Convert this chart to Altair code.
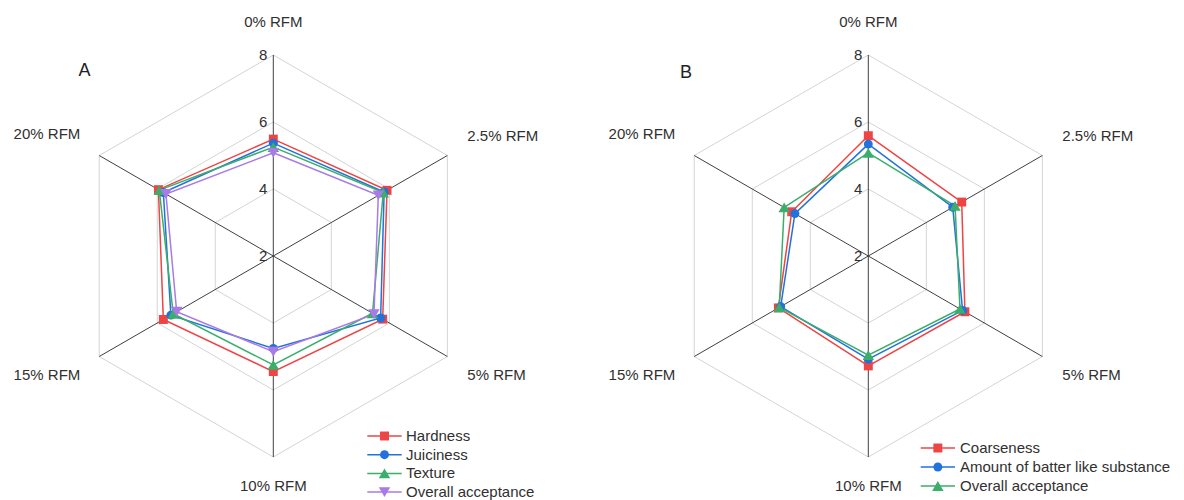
import math
import altair as alt
import pandas as pd

# ---------------- data ----------------
categories = ["0% RFM", "2.5% RFM", "5% RFM", "10% RFM", "15% RFM", "20% RFM"]
tick_values = [2, 4, 6, 8]
grid_values = [4, 6, 8]

a_names = ["Hardness", "Juiciness", "Texture", "Overall acceptance"]
a_hardness = [5.49, 5.92, 5.77, 5.45, 5.79, 5.96]
a_juiciness = [5.37, 5.82, 5.70, 4.76, 5.53, 5.79]
a_texture = [5.25, 5.79, 5.42, 5.25, 5.45, 5.93]
a_overall = [5.08, 5.62, 5.47, 4.86, 5.33, 5.70]

b_names = ["Coarseness", "Amount of batter like substance", "Overall acceptance"]
b_coarseness = [5.59, 5.22, 5.33, 5.28, 5.10, 4.64]
b_batter = [5.34, 4.91, 5.25, 5.08, 5.02, 4.53]
b_overall = [5.08, 4.99, 5.16, 4.96, 5.07, 4.90]

# ---------------- style / layout ----------------
RED, BLUE, GREEN, PURPLE = "#EE4444", "#2272DC", "#3AAE6A", "#A97BE6"
FONT = "Liberation Sans"
TEXT = "#303030"
W, H = 584, 484
CY = 248
R_PX = 201
VMIN, VMAX = tick_values[0], tick_values[-1]
PPU = R_PX / (VMAX - VMIN)

# label offsets from the centre, in px: (dx, dy, align)
LABEL_POS = [(0, -234, "center"), (194, -120, "left"), (194, 119, "left"),
             (0, 230, "center"), (-193, 119, "right"), (-193, -122, "right")]


def ang(i):
    return math.radians(60 * i)


def to_xy(v, i):
    r = v - VMIN
    return r * math.sin(ang(i)), r * math.cos(ang(i))


def radar(letter, names, values, colors, shapes, sizes, cx, letter_pos, legend_pos):
    xs = alt.Scale(domain=[-cx / PPU, (W - cx) / PPU], nice=False, zero=False)
    ys = alt.Scale(domain=[-(H - CY) / PPU, CY / PPU], nice=False, zero=False)

    def X(f):
        return alt.X(f, type="quantitative", scale=xs, axis=None)

    def Y(f):
        return alt.Y(f, type="quantitative", scale=ys, axis=None)

    col = alt.Color("series:N", scale=alt.Scale(domain=names, range=colors), legend=None)

    # grid hexagons
    grows = []
    for g in grid_values:
        for k in range(7):
            x, y = to_xy(g, k % 6)
            grows.append({"level": g, "k": k, "x": x, "y": y})
    grid = alt.Chart(pd.DataFrame(grows)).mark_line(color="#D4D4D4", strokeWidth=1).encode(
        x=X("x"), y=Y("y"), detail="level:N", order="k:Q")

    # spokes
    srows = []
    for i in range(6):
        x, y = to_xy(VMAX, i)
        srows.append({"x0": 0.0, "y0": 0.0, "x1": x, "y1": y})
    spokes = alt.Chart(pd.DataFrame(srows)).mark_rule(color="#404040", strokeWidth=1).encode(
        x=X("x0"), y=Y("y0"), x2="x1:Q", y2="y1:Q")

    # series
    rows = []
    for si, (n, vals) in enumerate(zip(names, values)):
        for k in range(7):
            x, y = to_xy(vals[k % 6], k % 6)
            rows.append({"series": n, "si": si, "k": k, "x": x, "y": y, "pt": k < 6})
    df = pd.DataFrame(rows)
    lines = alt.Chart(df).mark_line(strokeWidth=1.5).encode(
        x=X("x"), y=Y("y"), color=col, detail="series:N", order="k:Q")
    pt_layers = []
    for n, s, z in zip(names, shapes, sizes):
        sub = df[(df["series"] == n) & df["pt"]]
        pt_layers.append(alt.Chart(sub).mark_point(
            filled=True, opacity=1, strokeWidth=0, shape=s, size=z).encode(
            x=X("x"), y=Y("y"), color=col))

    # tick labels
    tdf = pd.DataFrame({"t": [str(t) for t in tick_values], "x": [0.0] * len(tick_values),
                        "y": [t - VMIN for t in tick_values]})
    ticks = alt.Chart(tdf).mark_text(align="right", baseline="middle", dx=-6, fontSize=15,
                                     font=FONT, color=TEXT).encode(x=X("x"), y=Y("y"), text="t:N")

    # category labels
    label_layers = []
    for al in ["center", "left", "right"]:
        lrows = [{"label": c, "x": LABEL_POS[i][0] / PPU, "y": -LABEL_POS[i][1] / PPU}
                 for i, c in enumerate(categories) if LABEL_POS[i][2] == al]
        label_layers.append(alt.Chart(pd.DataFrame(lrows)).mark_text(
            align=al, baseline="middle", fontSize=15, font=FONT, color=TEXT).encode(
            x=X("x"), y=Y("y"), text="label:N"))

    # panel letter
    let = alt.Chart(pd.DataFrame({"t": [letter]})).mark_text(
        align="center", baseline="middle", fontSize=18, font=FONT, color="#222222").encode(
        x=alt.value(letter_pos[0]), y=alt.value(letter_pos[1]), text="t:N")

    # legend
    lx1, lx2, ltx, ly0, lstep = legend_pos
    ldf = pd.DataFrame({"series": names,
                        "ly": [(CY - (ly0 + i * lstep)) / PPU for i in range(len(names))]})
    leg_rule = alt.Chart(ldf).mark_rule(strokeWidth=1.5).encode(
        x=alt.value(lx1), x2=alt.value(lx2), y=Y("ly"), color=col)
    leg_pts = []
    for n, s, z in zip(names, shapes, sizes):
        leg_pts.append(alt.Chart(ldf[ldf["series"] == n]).mark_point(
            filled=True, opacity=1, strokeWidth=0, shape=s, size=z).encode(
            x=alt.value((lx1 + lx2) / 2), y=Y("ly"), color=col))
    leg_txt = alt.Chart(ldf).mark_text(align="left", baseline="middle", fontSize=15,
                                       font=FONT, color=TEXT).encode(
        x=alt.value(ltx), y=Y("ly"), text="series:N")

    return alt.layer(grid, spokes, lines, *pt_layers, ticks, *label_layers, let,
                     leg_rule, *leg_pts, leg_txt).properties(width=W, height=H)


left = radar("A", a_names, [a_hardness, a_juiciness, a_texture, a_overall],
             [RED, BLUE, GREEN, PURPLE],
             ["square", "circle", "triangle-up", "triangle-down"], [80, 80, 130, 130],
             265.3, (76.5, 62.7), (359.3, 393.7, 398, 428, 18.7))
right = radar("B", b_names, [b_coarseness, b_batter, b_overall],
              [RED, BLUE, GREEN],
              ["square", "circle", "triangle-up"], [80, 80, 130],
              276.3, (94, 65), (328.7, 363, 368, 440, 19))

chart = alt.hconcat(left, right, spacing=0).resolve_scale(
    color="independent"
).properties(padding=0).configure_view(stroke=None)

chart.save("out.html", embed_options={"renderer": "svg", "actions": False})
